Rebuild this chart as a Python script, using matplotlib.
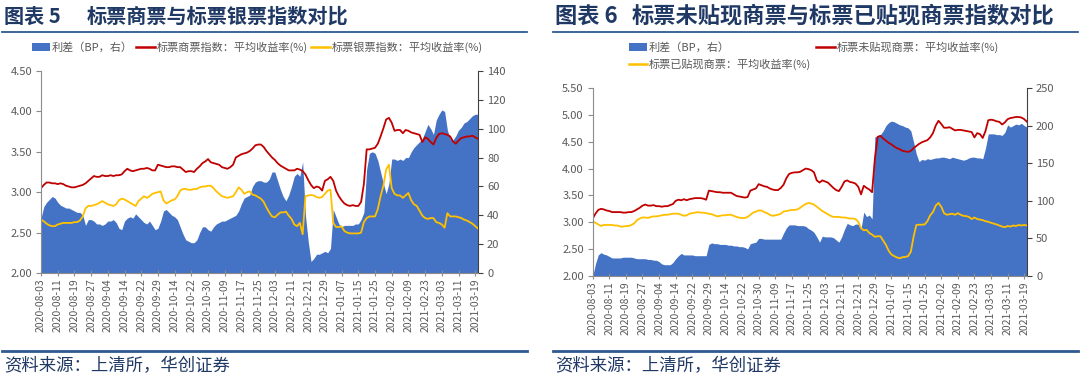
import matplotlib
matplotlib.use('Agg')
import matplotlib.pyplot as plt
from matplotlib.lines import Line2D
from matplotlib.patches import Patch
import numpy as np

plt.rcParams['font.family'] = ['Noto Sans CJK SC', 'DejaVu Sans']

date_labels = ['2020-08-03', '2020-08-11', '2020-08-19', '2020-08-27', '2020-09-04', '2020-09-14',
               '2020-09-22', '2020-09-29', '2020-10-14', '2020-10-22', '2020-10-30', '2020-11-09',
               '2020-11-17', '2020-11-25', '2020-12-03', '2020-12-11', '2020-12-21', '2020-12-29',
               '2021-01-07', '2021-01-15', '2021-01-25', '2021-02-02', '2021-02-09', '2021-02-23',
               '2021-03-03', '2021-03-11', '2021-03-19']
label_step = 6

# ---------- Chart 5 ----------
c5_commercial = [
    3.05, 3.09, 3.12, 3.12, 3.11, 3.11, 3.10, 3.11, 3.10, 3.08, 3.07, 3.06, 3.06, 3.07, 3.08, 3.09,
    3.11, 3.14, 3.17, 3.20, 3.19, 3.19, 3.21, 3.20, 3.20, 3.21, 3.20, 3.21, 3.21, 3.22, 3.26, 3.29,
    3.27, 3.26, 3.27, 3.28, 3.29, 3.29, 3.30, 3.29, 3.27, 3.27, 3.34, 3.33, 3.32, 3.31, 3.31, 3.32,
    3.32, 3.31, 3.31, 3.28, 3.25, 3.26, 3.26, 3.25, 3.29, 3.32, 3.36, 3.38, 3.41, 3.37, 3.36, 3.35,
    3.34, 3.31, 3.30, 3.29, 3.31, 3.34, 3.43, 3.45, 3.47, 3.48, 3.49, 3.51, 3.54, 3.58, 3.59, 3.59,
    3.56, 3.51, 3.47, 3.43, 3.40, 3.36, 3.33, 3.31, 3.29, 3.27, 3.27, 3.27, 3.29, 3.28, 3.26, 3.22,
    3.15, 3.09, 3.05, 3.07, 3.06, 3.02, 3.14, 3.16, 3.19, 3.14, 3.02, 2.95, 2.90, 2.86, 2.84, 2.83,
    2.84, 2.83, 2.83, 2.88, 3.10, 3.53, 3.53, 3.54, 3.55, 3.60, 3.69, 3.79, 3.90, 3.92, 3.86, 3.76,
    3.77, 3.77, 3.73, 3.77, 3.76, 3.74, 3.73, 3.72, 3.71, 3.62, 3.68, 3.66, 3.62, 3.59, 3.67, 3.72,
    3.73, 3.72, 3.71, 3.69, 3.63, 3.60, 3.64, 3.67, 3.68, 3.69, 3.69, 3.70, 3.68, 3.66]
c5_bank = [
    2.66, 2.64, 2.61, 2.59, 2.58, 2.58, 2.60, 2.61, 2.62, 2.62, 2.62, 2.62, 2.63, 2.63, 2.65, 2.70,
    2.80, 2.83, 2.83, 2.84, 2.85, 2.87, 2.89, 2.87, 2.85, 2.84, 2.83, 2.85, 2.90, 2.92, 2.91, 2.89,
    2.87, 2.85, 2.83, 2.89, 2.92, 2.95, 2.93, 2.95, 2.98, 2.99, 3.00, 3.01, 2.90, 2.86, 2.88, 2.90,
    2.91, 2.95, 3.02, 3.04, 3.04, 3.03, 3.03, 3.04, 3.04, 3.06, 3.07, 3.07, 3.08, 3.08, 3.05, 3.01,
    2.98, 2.95, 2.94, 2.93, 2.94, 2.95, 3.00, 3.06, 3.03, 2.98, 3.00, 3.01, 2.97, 2.96, 2.94, 2.92,
    2.88, 2.81, 2.75, 2.70, 2.69, 2.72, 2.75, 2.75, 2.76, 2.71, 2.67, 2.60, 2.58, 2.62, 2.48, 2.95,
    2.96, 2.965, 2.96, 2.94, 2.93, 2.94, 2.98, 3.02, 3.03, 2.62, 2.57, 2.57, 2.575, 2.52, 2.50, 2.49,
    2.49, 2.49, 2.49, 2.50, 2.63, 2.68, 2.70, 2.70, 2.70, 2.79, 2.95, 3.08, 3.28, 3.34, 3.05, 2.98,
    2.96, 2.96, 2.93, 2.96, 2.99, 2.90, 2.85, 2.83, 2.77, 2.71, 2.68, 2.67, 2.68, 2.68, 2.63, 2.62,
    2.60, 2.56, 2.74, 2.70, 2.70, 2.70, 2.69, 2.68, 2.66, 2.65, 2.63, 2.61, 2.58, 2.55]
c5_spread = [
    38, 46, 49, 51, 53, 52, 49, 47, 46, 45, 45, 44, 43, 42, 42, 40,
    33, 37, 37, 36, 34, 34, 33, 34, 36, 36, 37, 35, 31, 30, 36, 38,
    39, 38, 41, 39, 37, 35, 34, 36, 33, 30, 31, 36, 43, 44, 42, 40,
    39, 37, 32, 27, 23, 22, 21, 21, 23, 28, 32, 32, 30, 29, 32, 34,
    35, 36, 36, 37, 38, 39, 40, 43, 48, 52, 53, 54, 60, 63, 64, 64,
    63, 63, 65, 70, 70, 64, 58, 53, 50, 54, 60, 67, 69, 67, 77, 40,
    22, 8, 10, 13, 13, 14, 15, 14, 17, 44, 39, 34, 32, 33, 33, 33,
    33, 34, 34, 37, 42, 72, 83, 84, 83, 78, 70, 62, 55, 62, 79, 79,
    78, 79, 78, 80, 80, 84, 87, 89, 91, 93, 98, 103, 100, 96, 106, 110,
    113, 112, 99, 93, 92, 95, 99, 101, 104, 105, 107, 109, 110, 110]

# ---------- Chart 6 ----------
c6_undiscounted = [
    3.07, 3.16, 3.23, 3.25, 3.24, 3.22, 3.21, 3.19, 3.19, 3.19, 3.19, 3.18, 3.18, 3.19, 3.19, 3.21,
    3.24, 3.27, 3.31, 3.33, 3.31, 3.31, 3.32, 3.30, 3.30, 3.29, 3.30, 3.30, 3.32, 3.34, 3.40, 3.42,
    3.41, 3.43, 3.41, 3.43, 3.44, 3.45, 3.45, 3.45, 3.44, 3.42, 3.59, 3.58, 3.57, 3.56, 3.56, 3.55,
    3.55, 3.55, 3.55, 3.52, 3.49, 3.48, 3.47, 3.46, 3.47, 3.59, 3.61, 3.63, 3.71, 3.69, 3.67, 3.66,
    3.63, 3.61, 3.60, 3.60, 3.64, 3.70, 3.82, 3.90, 3.92, 3.93, 3.93, 3.94, 3.97, 4.00, 3.99, 3.97,
    3.93, 3.78, 3.74, 3.78, 3.76, 3.74, 3.69, 3.64, 3.60, 3.58, 3.66, 3.76, 3.78, 3.75, 3.74, 3.72,
    3.66, 3.52, 3.68, 3.64, 3.61, 3.56, 4.18, 4.59, 4.61, 4.56, 4.52, 4.48, 4.45, 4.41, 4.38, 4.36,
    4.33, 4.32, 4.31, 4.33, 4.38, 4.42, 4.46, 4.49, 4.51, 4.53, 4.58, 4.66, 4.80, 4.89, 4.83, 4.76,
    4.76, 4.77, 4.74, 4.71, 4.72, 4.72, 4.71, 4.70, 4.69, 4.68, 4.58, 4.66, 4.64, 4.57, 4.70, 4.90,
    4.91, 4.90, 4.88, 4.87, 4.82, 4.86, 4.92, 4.94, 4.95, 4.96, 4.96, 4.95, 4.92, 4.87]
c6_discounted = [
    3.02, 2.99, 2.96, 2.93, 2.95, 2.95, 2.95, 2.95, 2.94, 2.94, 2.92, 2.92, 2.93, 2.93, 2.95, 2.98,
    3.04, 3.07, 3.09, 3.09, 3.08, 3.10, 3.11, 3.11, 3.12, 3.13, 3.14, 3.14, 3.15, 3.16, 3.16, 3.16,
    3.14, 3.12, 3.13, 3.16, 3.17, 3.18, 3.19, 3.18, 3.18, 3.17, 3.16, 3.15, 3.13, 3.11, 3.12, 3.13,
    3.13, 3.14, 3.14, 3.12, 3.10, 3.085, 3.08, 3.08, 3.10, 3.14, 3.18, 3.20, 3.22, 3.22, 3.19, 3.17,
    3.14, 3.12, 3.13, 3.14, 3.16, 3.20, 3.21, 3.22, 3.23, 3.23, 3.24, 3.27, 3.31, 3.34, 3.36, 3.35,
    3.33, 3.29, 3.25, 3.21, 3.18, 3.15, 3.12, 3.10, 3.10, 3.10, 3.09, 3.09, 3.08, 3.07, 3.07, 3.06,
    3.01, 2.89, 2.85, 2.86, 2.80, 2.77, 2.73, 2.74, 2.74, 2.66, 2.58, 2.47, 2.40, 2.37, 2.345, 2.33,
    2.35, 2.355, 2.37, 2.45, 2.73, 2.95, 2.955, 2.955, 2.96, 3.02, 3.13, 3.19, 3.31, 3.36, 3.29, 3.17,
    3.14, 3.15, 3.16, 3.14, 3.17, 3.14, 3.12, 3.115, 3.10, 3.06, 3.09, 3.06, 3.05, 3.04, 3.02, 3.01,
    2.99, 2.975, 2.96, 2.94, 2.92, 2.91, 2.93, 2.92, 2.94, 2.93, 2.95, 2.94, 2.95, 2.94]
c6_spread = [
    0, 16, 28, 31, 29, 28, 26, 24, 24, 24, 24, 25, 25, 25, 25, 24,
    23, 23, 23, 23, 22, 22, 21, 21, 19, 16, 15, 15, 15, 18, 23, 27,
    30, 28, 28, 28, 28, 27, 27, 27, 27, 27, 42, 44, 43, 43, 42, 42,
    42, 41, 41, 40, 40, 39, 39, 38, 36, 43, 44, 45, 50, 50, 49, 49,
    49, 49, 49, 49, 49, 57, 64, 68, 68, 68, 67, 67, 67, 66, 63, 61,
    58, 52, 45, 53, 52, 52, 52, 51, 48, 45, 52, 62, 70, 68, 67, 69,
    69, 63, 85, 79, 81, 76, 185, 186, 188, 193, 200, 204, 206, 205, 203, 201,
    200, 198, 197, 193, 178, 162, 152, 155, 154, 156, 155, 156, 157, 157, 158, 158,
    157, 156, 158, 157, 156, 155, 154, 155, 157, 158, 158, 157, 157, 156, 170, 189,
    189, 189, 188, 188, 187, 191, 201, 198, 200, 202, 201, 203, 200, 198]

NAVY = '#1F3864'
RULE = '#2E5A8E'
GREY_TXT = '#595959'
AX_GREY = '#8C8C8C'
BLUE = '#4472C4'
RED = '#C00000'
GOLD = '#FFC000'

fig = plt.figure(figsize=(10.8, 3.77), dpi=100)
W, H = 1080.0, 377.0


def fx(px):
    return px / W


def fy(py):
    return 1 - py / H


def panel(rect, red, yellow, spread, ylim, ystep, y2lim, y2step):
    x = np.arange(len(red))
    ax1 = fig.add_axes(rect)
    ax2 = ax1.twinx()
    ax2.fill_between(x, 0, spread, color=BLUE, lw=0)
    ax1.plot(x, red, color=RED, lw=1.3)
    ax1.plot(x, yellow, color=GOLD, lw=1.3)
    ax1.set_zorder(ax2.get_zorder() + 1)
    ax1.patch.set_visible(False)
    ax1.set_xlim(0, len(red) - 1)
    ax1.set_ylim(*ylim)
    ax2.set_ylim(*y2lim)
    yt = np.arange(ylim[0], ylim[1] + 1e-9, ystep)
    ax1.set_yticks(yt)
    ax1.set_yticklabels([f'{v:.2f}' for v in yt])
    y2t = np.arange(y2lim[0], y2lim[1] + 1e-9, y2step)
    ax2.set_yticks(y2t)
    ax2.set_yticklabels([f'{int(v)}' for v in y2t])
    xt = np.arange(0, len(red), label_step)[:len(date_labels)]
    ax1.set_xticks(xt)
    ax1.set_xticklabels(date_labels, rotation=90)
    for s in ['top', 'right']:
        ax1.spines[s].set_visible(False)
    for s in ['top', 'left', 'bottom']:
        ax2.spines[s].set_visible(False)
    ax1.spines['left'].set_color(AX_GREY)
    ax1.spines['bottom'].set_color(AX_GREY)
    ax2.spines['right'].set_color('#404040')
    ax1.tick_params(axis='y', direction='out', length=3.5, color=AX_GREY,
                    labelsize=8, labelcolor=GREY_TXT, pad=3)
    ax2.tick_params(axis='y', direction='out', length=3.5, color='#404040',
                    labelsize=8, labelcolor=GREY_TXT, pad=3)
    ax1.tick_params(axis='x', direction='inout', length=5, color=AX_GREY,
                    labelsize=7.5, labelcolor=GREY_TXT, pad=1.5)
    return ax1, ax2


# Left panel
panel([fx(41), fy(273), fx(478 - 41), (273 - 71) / H],
      c5_commercial, c5_bank, c5_spread, (2.0, 4.5), 0.5, (0, 140), 20)
# Right panel
panel([fx(592.7), fy(276), fx(1027 - 592.7), (276 - 88) / H],
      c6_undiscounted, c6_discounted, c6_spread, (2.0, 5.5), 0.5, (0, 250), 50)

# Titles
title_kw = dict(fontweight='bold', color=NAVY, va='center', ha='left')
fig.text(fx(4), fy(16), '图表 5', fontsize=14.5, **title_kw)
fig.text(fx(87), fy(16), '标票商票与标票银票指数对比', fontsize=14.5, **title_kw)
fig.text(fx(555), fy(16), '图表 6', fontsize=16, **title_kw)
fig.text(fx(632), fy(16), '标票未贴现商票与标票已贴现商票指数对比', fontsize=16, **title_kw)

# Rules
for x0, x1 in [(2, 527), (553, 1078)]:
    fig.add_artist(Line2D([fx(x0), fx(x1)], [fy(32), fy(32)], transform=fig.transFigure,
                          color=RULE, lw=1.3))
    fig.add_artist(Line2D([fx(x0), fx(x1)], [fy(351), fy(351)], transform=fig.transFigure,
                          color=RULE, lw=2.0))

# Source
fig.text(fx(4), fy(366), '资料来源：上清所，华创证券', fontsize=12.5, color=NAVY,
         va='center', ha='left', style='italic')
fig.text(fx(555), fy(366), '资料来源：上清所，华创证券', fontsize=12.5, color=NAVY,
         va='center', ha='left', style='italic')

# Legends
h_blue = Patch(facecolor=BLUE, edgecolor='none')
leg_kw = dict(frameon=False, fontsize=8, handlelength=1.7, handleheight=0.7,
              handletextpad=0.15, borderpad=0, labelcolor=GREY_TXT)
h_red = Line2D([], [], color=RED, lw=1.8)
h_gold = Line2D([], [], color=GOLD, lw=1.8)
fig.legend([h_blue, h_red, h_gold],
           ['利差（BP，右）', '标票商票指数：平均收益率(%)', '标票银票指数：平均收益率(%)'],
           loc='center left', bbox_to_anchor=(fx(26), fy(47)), ncol=3,
           columnspacing=0.3, **leg_kw)
fig.legend([h_blue, h_gold, h_red],
           ['利差（BP，右）', '标票已贴现商票：平均收益率(%)', '标票未贴现商票：平均收益率(%)'],
           loc='center left', bbox_to_anchor=(fx(623), fy(56)), ncol=2,
           columnspacing=0.4, labelspacing=0.55, **leg_kw)

fig.savefig('out.png', dpi=100)
